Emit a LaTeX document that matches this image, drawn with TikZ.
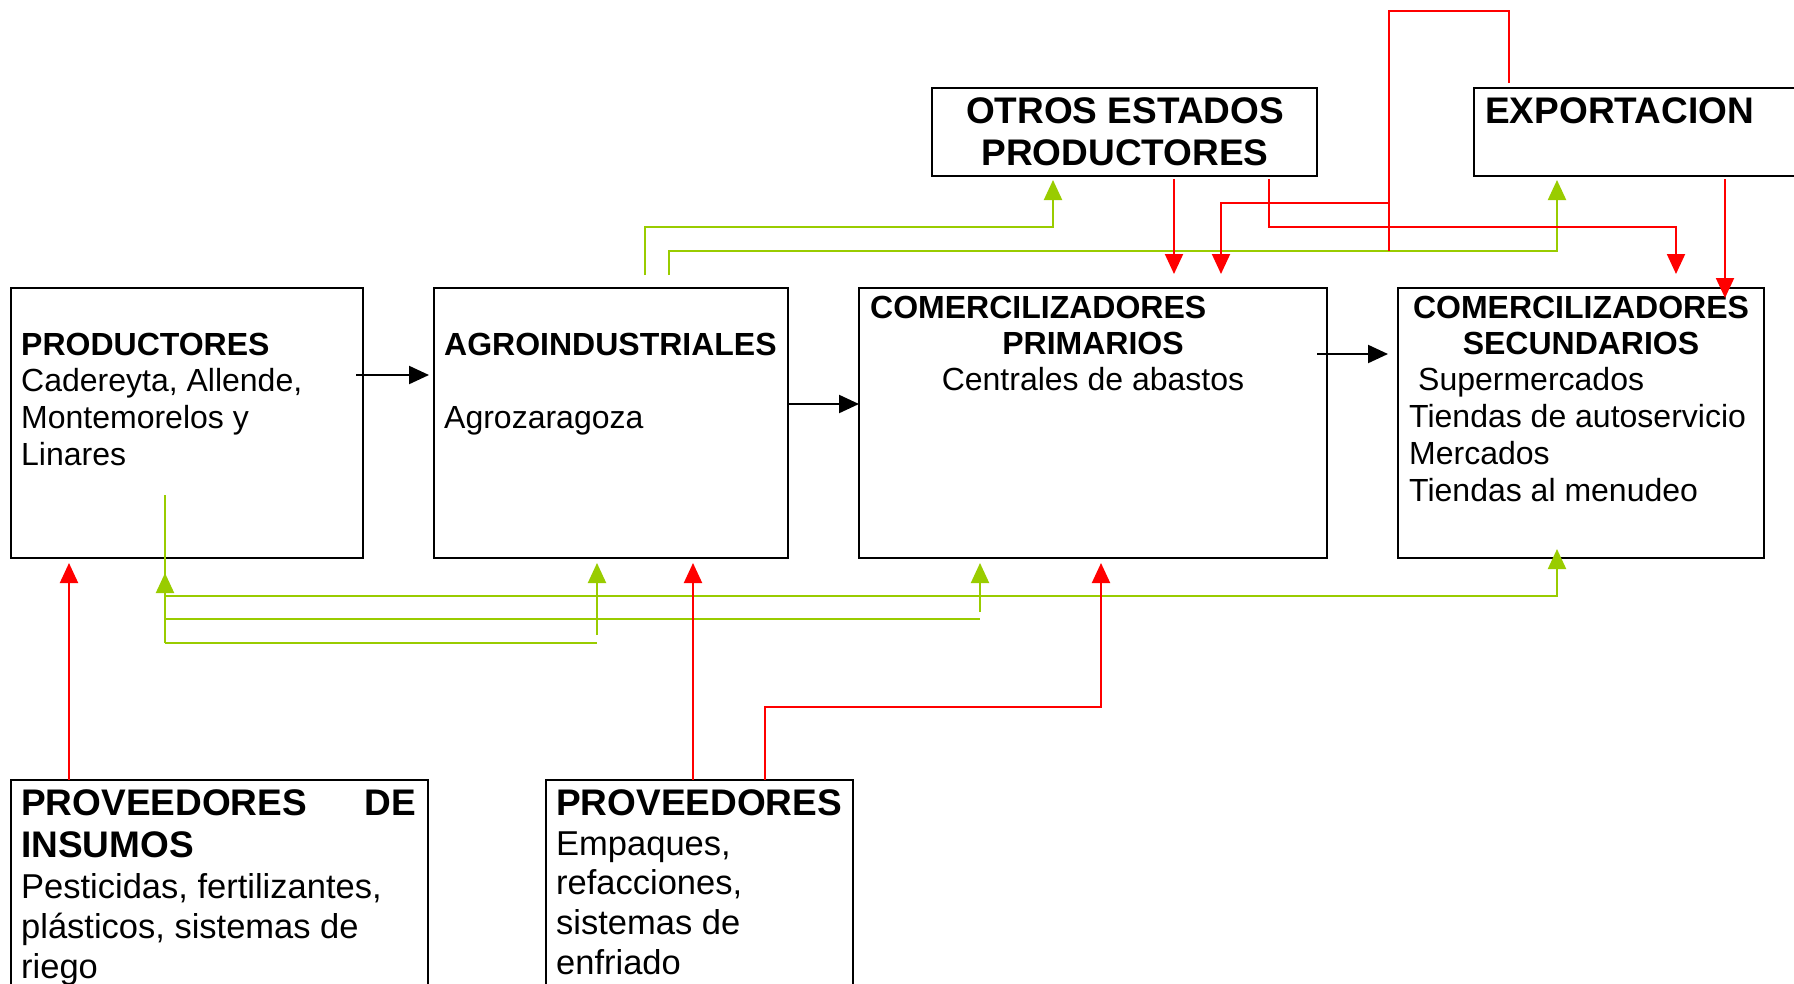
\documentclass[tikz,border=0pt]{standalone}
\usepackage{fontspec}
\setmainfont{Liberation Sans}
\usetikzlibrary{arrows.meta}
\definecolor{lime}{HTML}{99CC00}
\definecolor{rd}{HTML}{FF0000}
\newcommand{\bodyf}{\fontsize{32}{36.8}\selectfont}
\newcommand{\bigf}{\fontsize{37}{42.5}\selectfont\bfseries}
\newcommand{\provf}{\fontsize{34.5}{40}\selectfont}
\begin{document}
\begin{tikzpicture}[x=1pt,y=-1pt,
  box/.style={draw=black, line width=2.2pt, rectangle, anchor=north west, inner sep=0pt, outer sep=0pt},
  t/.style={inner sep=0pt, anchor=base west, font=\bodyf},
  tb/.style={inner sep=0pt, anchor=base west, font=\bodyf\bfseries},
  tc/.style={inner sep=0pt, anchor=base, font=\bodyf},
  tcb/.style={inner sep=0pt, anchor=base, font=\bodyf\bfseries},
  tbig/.style={inner sep=0pt, anchor=base west, font=\bigf},
  tbigc/.style={inner sep=0pt, anchor=base, font=\bigf},
  tp/.style={inner sep=0pt, anchor=base west, font=\provf},
  tip/.style={-{Triangle[length=20pt,width=18pt]}},
  redc/.style={draw=rd, line width=2pt},
  grnc/.style={draw=lime, line width=2pt},
  blkc/.style={draw=black, line width=2.2pt}
]
\useasboundingbox (0,0) rectangle (1794,983);
\clip (0,0) rectangle (1794,983);
\fill[white] (0,0) rectangle (1794,983);

% boxes
\node[box, minimum width=352pt, minimum height=270pt] (prod) at (11,288) {};
\node[box, minimum width=354pt, minimum height=270pt] (agro) at (434,288) {};
\node[box, minimum width=468pt, minimum height=270pt] (prim) at (859,288) {};
\node[box, minimum width=366pt, minimum height=270pt] (sec) at (1398,288) {};
\node[box, minimum width=385pt, minimum height=88pt] (otros) at (932,88) {};
\node[box, minimum width=360pt, minimum height=88pt] (exp) at (1474,88) {};
\node[box, minimum width=417pt, minimum height=260pt] (provi) at (11,780) {};
\node[box, minimum width=307pt, minimum height=260pt] (prov) at (546,780) {};

% texts
\node[tb] (prod1) at (21,355) {PRODUCTORES};
\node[t] (prod2) at (21,391.8) {Cadereyta, Allende,};
\node[t] (prod3) at (21,428.6) {Montemorelos y};
\node[t] (prod4) at (21,465.4) {Linares};

\node[tb] (agro1) at (444,355) {AGROINDUSTRIALES};
\node[t] (agro2) at (444,428.6) {Agrozaragoza};

\node[tb] (prim1) at (870,318) {COMERCILIZADORES};
\node[tcb] (prim2) at (1093,354) {PRIMARIOS};
\node[tc] (prim3) at (1093,390.8) {Centrales de abastos};

\node[tcb] (sec1) at (1581,318) {COMERCILIZADORES};
\node[tcb] (sec2) at (1581,354) {SECUNDARIOS};
\node[t] (sec3) at (1418,390.8) {Supermercados};
\node[t] (sec4) at (1409,427.6) {Tiendas de autoservicio};
\node[t] (sec5) at (1409,464.4) {Mercados};
\node[t] (sec6) at (1409,501.2) {Tiendas al menudeo};

\node[tbigc] (otros1) at (1125,123) {OTROS ESTADOS};
\node[tbigc] (otros2) at (1125,165.5) {PRODUCTORES};

\node[tbig] (exp1) at (1485,123) {EXPORTACION};

\node[tbig] (provi1) at (21,815) {\hbox to 395pt{PROVEEDORES\hfil DE}};
\node[tbig] (provi2) at (21,857) {INSUMOS};
\node[tp] (provi3) at (21,898) {Pesticidas, fertilizantes,};
\node[tp] (provi4) at (21,938) {plásticos, sistemas de};
\node[tp] (provi5) at (21,978) {riego};

\node[tbig] (prov1) at (556,815) {PROVEEDORES};
\node[tp] (prov2) at (556,855) {Empaques,};
\node[tp] (prov3) at (556,894) {refacciones,};
\node[tp] (prov4) at (556,934) {sistemas de};
\node[tp] (prov5) at (556,974) {enfriado};

% connector end points
\coordinate (b1s) at (356,375);  \coordinate (b1e) at (429,375);
\coordinate (b2s) at (789,404);  \coordinate (b2e) at (859,404);
\coordinate (b3s) at (1317,354); \coordinate (b3e) at (1388,354);

\coordinate (r1s) at (69,780);   \coordinate (r1e) at (69,563);
\coordinate (r2s) at (693,780);  \coordinate (r2e) at (693,563);
\coordinate (r3s) at (765,780);  \coordinate (r3m) at (765,707); \coordinate (r3e) at (1101,563);
\coordinate (r4s) at (1174,179); \coordinate (r4e) at (1174,274);
\coordinate (r5s) at (1269,179); \coordinate (r5m) at (1269,227); \coordinate (r5e) at (1676,274);
\coordinate (r6s) at (1509,83);  \coordinate (r6a) at (1389,11); \coordinate (r6b) at (1389,203);
\coordinate (r6c) at (1389,251); \coordinate (r6e) at (1221,274);
\coordinate (r7s) at (1725,179); \coordinate (r7e) at (1725,298);

\coordinate (g1s) at (645,275);  \coordinate (g1m) at (645,227); \coordinate (g1e) at (1053,180);
\coordinate (g2s) at (669,275);  \coordinate (g2m) at (669,251); \coordinate (g2e) at (1557,180);
\coordinate (g3t) at (165,495);  \coordinate (g3b) at (165,643); \coordinate (g3e) at (165,573);
\coordinate (g4s) at (165,596);  \coordinate (g4m) at (1557,596); \coordinate (g4e) at (1557,549);
\coordinate (g5s) at (165,619);  \coordinate (g5m) at (980,619);
\coordinate (g5a) at (980,612);  \coordinate (g5e) at (980,563);
\coordinate (g6s) at (165,643);  \coordinate (g6m) at (597,643);
\coordinate (g6a) at (597,635);  \coordinate (g6e) at (597,563);

% black arrows
\draw[blkc, tip] (b1s) -- (b1e);
\draw[blkc, tip] (b2s) -- (b2e);
\draw[blkc, tip] (b3s) -- (b3e);

% green connectors
\draw[grnc, tip] (g1s) -- (g1m) -| (g1e);
\draw[grnc, tip] (g2s) -- (g2m) -| (g2e);
\draw[grnc] (g3t) -- (g3b);
\draw[grnc, tip] (g3b) -- (g3e);
\draw[grnc, tip] (g4s) -- (g4m) -- (g4e);
\draw[grnc] (g5s) -- (g5m);
\draw[grnc, tip] (g5a) -- (g5e);
\draw[grnc] (g6s) -- (g6m);
\draw[grnc, tip] (g6a) -- (g6e);

% red connectors
\draw[redc, tip] (r1s) -- (r1e);
\draw[redc, tip] (r2s) -- (r2e);
\draw[redc, tip] (r3s) -- (r3m) -| (r3e);
\draw[redc, tip] (r4s) -- (r4e);
\draw[redc, tip] (r5s) -- (r5m) -| (r5e);
\draw[redc, tip] (r6s) |- (r6a) -- (r6b) -| (r6e);
\draw[redc] (r6b) -- (r6c);
\draw[redc, tip] (r7s) -- (r7e);
\end{tikzpicture}
\end{document}
